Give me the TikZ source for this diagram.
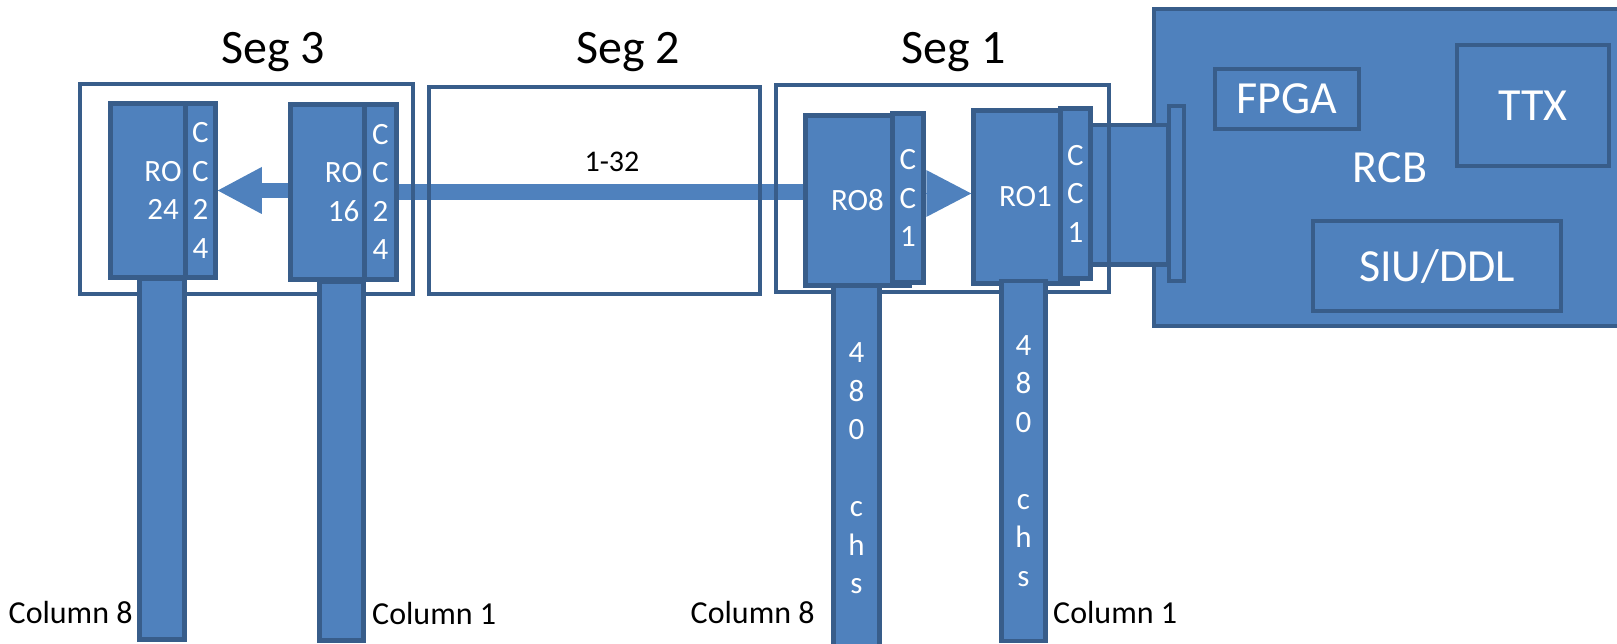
\documentclass[tikz,border=0pt]{standalone}
\usepackage{fontspec}
\setmainfont{Carlito}
\usetikzlibrary{arrows.meta}
\definecolor{ofblue}{HTML}{4F81BD}
\definecolor{dkblue}{HTML}{385D8A}
\newcommand\fRO{\fontsize{31}{38.5}\selectfont}
\newcommand\fBig{\fontsize{46}{55}\selectfont}
\newcommand\fSeg{\fontsize{48}{58}\selectfont}
\newcommand\fCol{\fontsize{32}{38}\selectfont}
\begin{document}
\begin{tikzpicture}[x=1pt,y=-1pt,
  blk/.style={rectangle, draw=dkblue, fill=ofblue, line width=4.5pt, inner sep=0pt, text=white},
  rotext/.style={blk, font=\fRO, align=center},
  segbox/.style={rectangle, draw=dkblue, line width=4.5pt, inner sep=0pt},
  bus/.style={draw=ofblue, line width=16pt},
  fatarrow/.style={draw=ofblue, line width=15pt, -{Triangle[length=44pt,width=47pt,line width=0pt]}},
  tipline/.style={draw=ofblue, line width=1pt, -{Triangle[length=45pt,width=47pt,line width=0pt]}},
  lbl/.style={inner sep=0pt, font=\fCol, anchor=base west},
  seglbl/.style={inner sep=0pt, font=\fSeg, anchor=base}]
\useasboundingbox (0,0) rectangle (1617,644);

% RCB board
\node[blk, minimum width=486pt, minimum height=317pt] (rcb) at (1397,167.5) {};
\node[blk, minimum width=144pt, minimum height=60pt, font=\fBig] (fpga) at (1287,99) {FPGA};
\node[blk, minimum width=152pt, minimum height=121pt, font=\fBig] (ttx) at (1533,105.5) {TTX};
\node[blk, minimum width=248pt, minimum height=90pt, font=\fBig, text depth=0pt] (siu) at (1437,266) {SIU/DDL};
\node[inner sep=0pt, font=\fBig, text=white] (rcbt) at (1390,168) {RCB};

% connector to RCB
\node[blk, minimum width=83pt, minimum height=139.5pt] (conn) at (1126.5,195) {};
\node[blk, minimum width=15pt, minimum height=175pt] (bar) at (1176.5,193.5) {};

% readout boxes
\node[rotext, minimum width=105pt, minimum height=174pt] (ro24) at (163,190.5) {RO\\24};
\node[rotext, minimum width=30pt, minimum height=174pt] (cc24a) at (200.5,190.5) {C\\C\\2\\4};
\node[rotext, minimum width=106pt, minimum height=175pt] (ro16) at (343.5,192) {RO\\16};
\node[rotext, minimum width=32pt, minimum height=175pt] (cc16) at (380.5,192) {C\\C\\2\\4};
\node[rotext, minimum width=104pt, minimum height=170pt] (ro8) at (857.5,200.5) {RO8};
\node[rotext, minimum width=31pt, minimum height=169pt] (cc8) at (908,198) {C\\C\\1};
\node[rotext, minimum width=104pt, minimum height=173pt] (ro1) at (1025.5,197) {RO1};
\node[rotext, minimum width=30pt, minimum height=170pt] (cc1) at (1075.5,193.5) {C\\C\\1};

% bus and arrows
\draw[bus] (cc16.east) -- (ro8.west |- cc16.east);
\draw[fatarrow] (ro16.west |- ro24.east) -- (cc24a.east);
\draw[tipline] (cc8.east |- cc1.west) -- (ro1.west |- cc1.west);
\node[inner sep=0pt, font=\fontsize{30}{36}\selectfont] (bw) at (612,162) {1-32};

% segment frames
\node[segbox, minimum width=333pt, minimum height=210pt] (seg3) at (246.5,189) {};
\node[segbox, minimum width=331pt, minimum height=207pt] (seg2) at (594.5,190.5) {};
\node[segbox, minimum width=333pt, minimum height=207pt] (seg1) at (942.5,188.5) {};
\node[seglbl] (s3) at (273,64) {Seg 3};
\node[seglbl] (s2) at (628,64) {Seg 2};
\node[seglbl] (s1) at (953.5,64) {Seg 1};

% columns
\node[blk, minimum width=45pt, minimum height=360.5pt] (col24) at (162,459.25) {};
\node[blk, minimum width=44pt, minimum height=358.5pt] (col16) at (341.5,461.25) {};
\node[rotext, minimum width=46pt, minimum height=365pt] (col8) at (856.5,468.5) {4\\8\\0\\[38.5pt]c\\h\\s};
\node[rotext, minimum width=44pt, minimum height=360pt] (col1) at (1023.5,461) {4\\8\\0\\[38.5pt]c\\h\\s};

% column labels
\node[lbl] (c8a) at (8.5,623.5) {Column 8};
\node[lbl] (c1a) at (372,624) {Column 1};
\node[lbl] (c8b) at (690.5,623.5) {Column 8};
\node[lbl] (c1b) at (1053,623.5) {Column 1};
\end{tikzpicture}
\end{document}
